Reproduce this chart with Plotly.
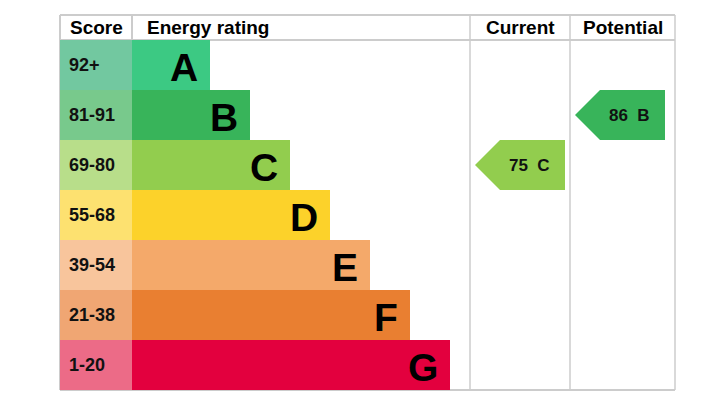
import plotly.graph_objects as go

letters = ["A", "B", "C", "D", "E", "F", "G"]
bands = ["92+", "81-91", "69-80", "55-68", "39-54", "21-38", "1-20"]
bar_steps = [1, 2, 3, 4, 5, 6, 7]
bar_colors = ["#3cc983", "#38b45a", "#92cd4e", "#fcd22a", "#f4a96a", "#e97f31", "#e3003e"]
cell_colors = ["#72c8a0", "#78c98c", "#b8de8a", "#fde170", "#f8c59c", "#f0a673", "#ec6b87"]
current_score, current_letter = 75, "C"
potential_score, potential_letter = 86, "B"

X0, XS, XB, XC, XP, X1 = 60, 132, 470, 570, 675, 675
Y0, YH, RH = 15, 40, 50
ys = [YH + RH * i + RH / 2 for i in range(7)]
ends = [XS + 38 + 40 * s for s in bar_steps]

fig = go.Figure()
fig.add_trace(go.Bar(orientation="h", y=ys, x=[XS - X0] * 7, base=X0, width=RH,
                     marker=dict(color=cell_colors, line=dict(width=0)), hoverinfo="skip"))
fig.add_trace(go.Bar(orientation="h", y=ys, x=[e - XS for e in ends], base=XS, width=RH,
                     marker=dict(color=bar_colors, line=dict(width=0)), hoverinfo="skip"))

def arrow(col_left, score, letter):
    i = letters.index(letter)
    yc = ys[i]
    l, r = col_left + 5, col_left + 95
    xs = [l, l + 25, r, r, l + 25, l]
    yy = [yc, yc - 25, yc - 25, yc + 25, yc + 25, yc]
    fig.add_trace(go.Scatter(x=xs, y=yy, fill="toself", fillcolor=bar_colors[i], mode="lines",
                             line=dict(width=0, color=bar_colors[i]), hoverinfo="skip"))
    fig.add_annotation(x=(l + 25 + r) / 2 - 3, y=yc, text=f"<b>{score}  {letter}</b>", showarrow=False,
                       font=dict(size=17, color="#111", family="Liberation Sans"))

arrow(XB, current_score, current_letter)
arrow(XC, potential_score, potential_letter)

for i in range(7):
    fig.add_annotation(x=X0 + 7, y=ys[i], text=f"<b>{bands[i]}</b>", showarrow=False, xanchor="left",
                       font=dict(size=18, color="#111", family="Liberation Sans"))
    fig.add_annotation(x=ends[i] - 10, y=ys[i] + 2, text=f"<b>{letters[i]}</b>", showarrow=False, xanchor="right",
                       font=dict(size=39, color="#000", family="Liberation Sans"))

hdr = dict(size=19, color="#000", family="Liberation Sans")
fig.add_annotation(x=(X0 + XS) / 2, y=(Y0 + YH) / 2, text="<b>Score</b>", showarrow=False, font=hdr)
fig.add_annotation(x=XS + 13, y=(Y0 + YH) / 2, text="<b>Energy rating</b>", showarrow=False, xanchor="left", font=hdr)
fig.add_annotation(x=(XB + XC) / 2, y=(Y0 + YH) / 2, text="<b>Current</b>", showarrow=False, font=hdr)
fig.add_annotation(x=(XC + XP) / 2, y=(Y0 + YH) / 2, text="<b>Potential</b>", showarrow=False, font=hdr)

lc = "#cccccc"
shapes = []
for x in [X0, XS, XB, XC, X1]:
    shapes.append(dict(type="line", x0=x, x1=x, y0=Y0, y1=YH if x == XS else 390, line=dict(color=lc, width=2 if x in (X0, XS) else 1.5), layer="below"))
for y in [Y0, YH, 390]:
    shapes.append(dict(type="line", x0=X0, x1=X1, y0=y, y1=y, line=dict(color=lc, width=2), layer="below"))
fig.update_layout(shapes=shapes, width=704, height=404, margin=dict(l=0, r=0, t=0, b=0),
                  paper_bgcolor="white", plot_bgcolor="white", showlegend=False, barmode="overlay",
                  xaxis=dict(range=[8, 712], visible=False, fixedrange=True),
                  yaxis=dict(range=[412, 8], visible=False, fixedrange=True))
fig.write_html("out.html")
